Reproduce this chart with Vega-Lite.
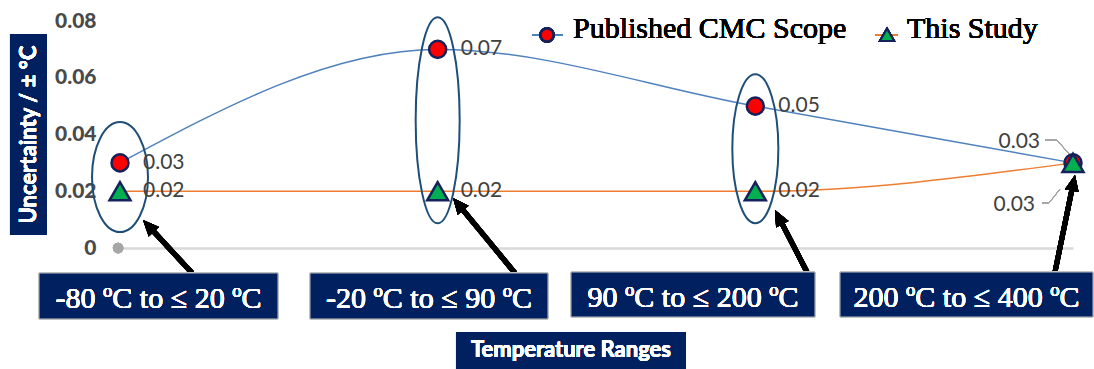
{
  "$schema": "https://vega.github.io/schema/vega-lite/v6.json",
  "width": 953,
  "height": 227,
  "autosize": "none",
  "padding": {"left": 120, "top": 21, "right": 21, "bottom": 121},
  "background": "white",
  "config": {"view": {"stroke": null}, "font": "Lato"},
  "data": {
    "values": [
      {"idx": 1, "range": "-80 ºC to ≤ 20 ºC", "series": "Published CMC Scope", "value": 0.03},
      {"idx": 2, "range": "-20 ºC to ≤ 90 ºC", "series": "Published CMC Scope", "value": 0.07},
      {"idx": 3, "range": "90 ºC to ≤ 200 ºC", "series": "Published CMC Scope", "value": 0.05},
      {"idx": 4, "range": "200 ºC to ≤ 400 ºC", "series": "Published CMC Scope", "value": 0.03},
      {"idx": 1, "range": "-80 ºC to ≤ 20 ºC", "series": "This Study", "value": 0.02},
      {"idx": 2, "range": "-20 ºC to ≤ 90 ºC", "series": "This Study", "value": 0.02},
      {"idx": 3, "range": "90 ºC to ≤ 200 ºC", "series": "This Study", "value": 0.02},
      {"idx": 4, "range": "200 ºC to ≤ 400 ºC", "series": "This Study", "value": 0.03}
    ]
  },
  "layer": [
    {
      "mark": {"type": "rect", "fill": "#002060"},
      "encoding": {
        "x": {"datum": 0.6537, "type": "quantitative"},
        "x2": {"datum": 0.7702},
        "y": {"datum": 0.07542, "type": "quantitative"},
        "y2": {"datum": 0.00458}
      }
    },
    {
      "mark": {"type": "text", "text": "Uncertainty / ± °C", "angle": 270, "font": "Lato", "fontWeight": "bold", "fontSize": 22, "color": "white", "align": "center", "baseline": "middle"},
      "encoding": {
        "x": {"datum": 0.712, "type": "quantitative"},
        "y": {"datum": 0.04, "type": "quantitative"}
      }
    },
    {
      "mark": {"type": "point", "filled": true, "fill": "#a6a6a6", "stroke": null, "size": 110, "opacity": 0.9},
      "encoding": {
        "x": {"datum": 0.994, "type": "quantitative"},
        "y": {"datum": 0, "type": "quantitative"}
      }
    },
    {
      "mark": {"type": "line", "interpolate": "monotone", "strokeWidth": 1.5},
      "encoding": {
        "x": {
          "field": "idx", "type": "quantitative",
          "scale": {"domain": [1, 4], "nice": false, "zero": false},
          "axis": {"title": null, "labels": false, "ticks": false, "grid": false, "domainColor": "#d9d9d9", "domainWidth": 2.5}
        },
        "y": {
          "field": "value", "type": "quantitative",
          "scale": {"domain": [0, 0.08], "nice": false, "zero": true},
          "axis": {
            "title": null, "values": [0, 0.02, 0.04, 0.06, 0.08],
            "labelExpr": "datum.value == 0 ? '0' : format(datum.value, '.2f')",
            "labelFont": "Lato", "labelFontWeight": 900, "labelFontSize": 21,
            "labelColor": "#4a4a4a", "labelPadding": 24,
            "ticks": false, "domain": false, "grid": false
          }
        },
        "color": {
          "field": "series", "type": "nominal",
          "scale": {"domain": ["Published CMC Scope", "This Study"], "range": ["#4f81bd", "#ed7d31"]},
          "legend": null
        }
      }
    },
    {
      "transform": [
        {"filter": "datum.idx == 1"},
        {"aggregate": [{"op": "mean", "field": "value", "as": "mid"}], "groupby": ["idx"]}
      ],
      "mark": {"type": "point", "filled": false, "stroke": "#1f4e79", "strokeWidth": 2, "opacity": 1, "size": 12100,
        "shape": "M 0.509,0 C 0.509,0.5523 0.2811,1 0,1 C -0.2811,1 -0.509,0.5523 -0.509,0 C -0.509,-0.5523 -0.2811,-1 0,-1 C 0.2811,-1 0.509,-0.5523 0.509,0 Z"},
      "encoding": {
        "x": {"field": "idx", "type": "quantitative"},
        "y": {"field": "mid", "type": "quantitative"}
      }
    },
    {
      "transform": [
        {"filter": "datum.idx == 2"},
        {"aggregate": [{"op": "mean", "field": "value", "as": "mid"}], "groupby": ["idx"]}
      ],
      "mark": {"type": "point", "filled": false, "stroke": "#1f4e79", "strokeWidth": 2, "opacity": 1, "size": 42436,
        "shape": "M 0.2136,0 C 0.2136,0.5523 0.118,1 0,1 C -0.118,1 -0.2136,0.5523 -0.2136,0 C -0.2136,-0.5523 -0.118,-1 0,-1 C 0.118,-1 0.2136,-0.5523 0.2136,0 Z"},
      "encoding": {
        "x": {"field": "idx", "type": "quantitative"},
        "y": {"field": "mid", "type": "quantitative"}
      }
    },
    {
      "transform": [
        {"filter": "datum.idx == 3"},
        {"aggregate": [{"op": "mean", "field": "value", "as": "mid"}], "groupby": ["idx"]}
      ],
      "mark": {"type": "point", "filled": false, "stroke": "#1f4e79", "strokeWidth": 2, "opacity": 1, "size": 22201,
        "shape": "M 0.309,0 C 0.309,0.5523 0.1707,1 0,1 C -0.1707,1 -0.309,0.5523 -0.309,0 C -0.309,-0.5523 -0.1707,-1 0,-1 C 0.1707,-1 0.309,-0.5523 0.309,0 Z"},
      "encoding": {
        "x": {"field": "idx", "type": "quantitative"},
        "y": {"field": "mid", "type": "quantitative"}
      }
    },
    {
      "mark": {"type": "point", "filled": true, "stroke": "#14215a", "strokeWidth": 2.5, "opacity": 1},
      "encoding": {
        "x": {"field": "idx", "type": "quantitative"},
        "y": {"field": "value", "type": "quantitative"},
        "shape": {
          "field": "series", "type": "nominal",
          "scale": {"domain": ["Published CMC Scope", "This Study"], "range": ["circle", "triangle-up"]},
          "legend": null
        },
        "fill": {
          "field": "series", "type": "nominal",
          "scale": {"domain": ["Published CMC Scope", "This Study"], "range": ["#ff0000", "#00b050"]},
          "legend": null
        },
        "size": {
          "field": "series", "type": "nominal",
          "scale": {"domain": ["Published CMC Scope", "This Study"], "range": [290, 440]},
          "legend": null
        }
      }
    },
    {
      "transform": [{"filter": "datum.idx < 4"}],
      "mark": {"type": "text", "align": "left", "baseline": "middle", "dx": 23, "font": "Lato", "fontSize": 21, "color": "#404040"},
      "encoding": {
        "x": {"field": "idx", "type": "quantitative"},
        "y": {"field": "value", "type": "quantitative"},
        "text": {"field": "value", "type": "quantitative", "format": ".2f"}
      }
    },
    {
      "transform": [{"filter": "datum.idx == 4 && datum.series == 'Published CMC Scope'"}],
      "mark": {"type": "text", "align": "right", "baseline": "middle", "dx": -33, "dy": -21, "font": "Lato", "fontSize": 21, "color": "#404040"},
      "encoding": {
        "x": {"field": "idx", "type": "quantitative"},
        "y": {"field": "value", "type": "quantitative"},
        "text": {"field": "value", "type": "quantitative", "format": ".2f"}
      }
    },
    {
      "transform": [{"filter": "datum.idx == 4 && datum.series == 'This Study'"}],
      "mark": {"type": "text", "align": "right", "baseline": "middle", "dx": -38, "dy": 42, "font": "Lato", "fontSize": 21, "color": "#404040"},
      "encoding": {
        "x": {"field": "idx", "type": "quantitative"},
        "y": {"field": "value", "type": "quantitative"},
        "text": {"field": "value", "type": "quantitative", "format": ".2f"}
      }
    },
    {
      "mark": {"type": "rule", "color": "#a6a6a6", "strokeWidth": 1},
      "encoding": {"x": {"datum": 3.9119, "type": "quantitative"}, "x2": {"datum": 3.9497}, "y": {"datum": 0.03806, "type": "quantitative"}, "y2": {"datum": 0.03806}}
    },
    {
      "mark": {"type": "rule", "color": "#a6a6a6", "strokeWidth": 1},
      "encoding": {"x": {"datum": 3.9497, "type": "quantitative"}, "x2": {"datum": 3.9874}, "y": {"datum": 0.03806, "type": "quantitative"}, "y2": {"datum": 0.03313}}
    },
    {
      "mark": {"type": "rule", "color": "#a6a6a6", "strokeWidth": 1},
      "encoding": {"x": {"datum": 3.9024, "type": "quantitative"}, "x2": {"datum": 3.9245}, "y": {"datum": 0.01586, "type": "quantitative"}, "y2": {"datum": 0.01586}}
    },
    {
      "mark": {"type": "rule", "color": "#a6a6a6", "strokeWidth": 1},
      "encoding": {"x": {"datum": 3.9245, "type": "quantitative"}, "x2": {"datum": 3.9591}, "y": {"datum": 0.01586, "type": "quantitative"}, "y2": {"datum": 0.02079}}
    },
    {
      "mark": {"type": "rule", "color": "black", "strokeWidth": 5},
      "encoding": {"x": {"datum": 1.2267, "type": "quantitative"}, "x2": {"datum": 1.0938}, "y": {"datum": -0.00881, "type": "quantitative"}, "y2": {"datum": 0.0073}}
    },
    {
      "mark": {"type": "rule", "color": "black", "strokeWidth": 5},
      "encoding": {"x": {"datum": 2.2434, "type": "quantitative"}, "x2": {"datum": 2.0684}, "y": {"datum": -0.00881, "type": "quantitative"}, "y2": {"datum": 0.01491}}
    },
    {
      "mark": {"type": "rule", "color": "black", "strokeWidth": 5},
      "encoding": {"x": {"datum": 3.1626, "type": "quantitative"}, "x2": {"datum": 3.0764}, "y": {"datum": -0.00846, "type": "quantitative"}, "y2": {"datum": 0.01026}}
    },
    {
      "mark": {"type": "rule", "color": "black", "strokeWidth": 5},
      "encoding": {"x": {"datum": 3.9433, "type": "quantitative"}, "x2": {"datum": 3.9997}, "y": {"datum": -0.00846, "type": "quantitative"}, "y2": {"datum": 0.02227}}
    },
    {
      "mark": {"type": "point", "filled": true, "fill": "black", "stroke": null, "opacity": 1, "size": 400, "angle": 317.2, "shape": "M 0,0 L 0.7,1.6 L -0.7,1.6 Z"},
      "encoding": {"x": {"datum": 1.0724, "type": "quantitative"}, "y": {"datum": 0.00987, "type": "quantitative"}}
    },
    {
      "mark": {"type": "point", "filled": true, "fill": "black", "stroke": null, "opacity": 1, "size": 400, "angle": 320.4, "shape": "M 0,0 L 0.7,1.6 L -0.7,1.6 Z"},
      "encoding": {"x": {"datum": 2.0483, "type": "quantitative"}, "y": {"datum": 0.01762, "type": "quantitative"}}
    },
    {
      "mark": {"type": "point", "filled": true, "fill": "black", "stroke": null, "opacity": 1, "size": 400, "angle": 332.7, "shape": "M 0,0 L 0.7,1.6 L -0.7,1.6 Z"},
      "encoding": {"x": {"datum": 3.0619, "type": "quantitative"}, "y": {"datum": 0.01339, "type": "quantitative"}}
    },
    {
      "mark": {"type": "point", "filled": true, "fill": "black", "stroke": null, "opacity": 1, "size": 400, "angle": 11.7, "shape": "M 0,0 L 0.7,1.6 L -0.7,1.6 Z"},
      "encoding": {"x": {"datum": 4.0063, "type": "quantitative"}, "y": {"datum": 0.02573, "type": "quantitative"}}
    },
    {
      "mark": {"type": "rect", "fill": "#002060", "stroke": "#c0c0c0", "strokeWidth": 1},
      "encoding": {"x": {"datum": 0.745, "type": "quantitative"}, "x2": {"datum": 1.4974}, "y": {"datum": -0.00881, "type": "quantitative"}, "y2": {"datum": -0.02502}}
    },
    {
      "mark": {"type": "rect", "fill": "#002060", "stroke": "#c0c0c0", "strokeWidth": 1},
      "encoding": {"x": {"datum": 1.5981, "type": "quantitative"}, "x2": {"datum": 2.3473}, "y": {"datum": -0.00881, "type": "quantitative"}, "y2": {"datum": -0.02502}}
    },
    {
      "mark": {"type": "rect", "fill": "#002060", "stroke": "#c0c0c0", "strokeWidth": 1},
      "encoding": {"x": {"datum": 2.4197, "type": "quantitative"}, "x2": {"datum": 3.1878}, "y": {"datum": -0.00846, "type": "quantitative"}, "y2": {"datum": -0.02432}}
    },
    {
      "mark": {"type": "rect", "fill": "#002060", "stroke": "#c0c0c0", "strokeWidth": 1},
      "encoding": {"x": {"datum": 3.2665, "type": "quantitative"}, "x2": {"datum": 4.063}, "y": {"datum": -0.00846, "type": "quantitative"}, "y2": {"datum": -0.02432}}
    },
    {
      "mark": {"type": "text", "text": "-80 ºC to  ≤ 20 ºC", "font": "Liberation Serif", "fontSize": 30, "color": "white", "align": "center", "baseline": "alphabetic"},
      "encoding": {"x": {"datum": 1.1212, "type": "quantitative"}, "y": {"datum": -0.02115, "type": "quantitative"}}
    },
    {
      "mark": {"type": "text", "text": "-20 ºC to  ≤ 90 ºC", "font": "Liberation Serif", "fontSize": 30, "color": "white", "align": "center", "baseline": "alphabetic"},
      "encoding": {"x": {"datum": 1.9727, "type": "quantitative"}, "y": {"datum": -0.02115, "type": "quantitative"}}
    },
    {
      "mark": {"type": "text", "text": "90 ºC to  ≤ 200 ºC", "font": "Liberation Serif", "fontSize": 30, "color": "white", "align": "center", "baseline": "alphabetic"},
      "encoding": {"x": {"datum": 2.8038, "type": "quantitative"}, "y": {"datum": -0.0208, "type": "quantitative"}}
    },
    {
      "mark": {"type": "text", "text": "200 ºC to  ≤ 400 ºC", "font": "Liberation Serif", "fontSize": 30, "color": "white", "align": "center", "baseline": "alphabetic"},
      "encoding": {"x": {"datum": 3.6647, "type": "quantitative"}, "y": {"datum": -0.0208, "type": "quantitative"}}
    },
    {
      "mark": {"type": "rect", "fill": "#002060"},
      "encoding": {"x": {"datum": 2.0577, "type": "quantitative"}, "x2": {"datum": 2.7817}, "y": {"datum": -0.0296, "type": "quantitative"}, "y2": {"datum": -0.0435}}
    },
    {
      "mark": {"type": "text", "text": "Temperature Ranges", "font": "Lato", "fontWeight": "bold", "fontSize": 22, "color": "white", "align": "center", "baseline": "middle"},
      "encoding": {"x": {"datum": 2.4197, "type": "quantitative"}, "y": {"datum": -0.03595, "type": "quantitative"}}
    },
    {
      "mark": {"type": "rule", "color": "#4f81bd", "strokeWidth": 1.5},
      "encoding": {"x": {"datum": 2.297, "type": "quantitative"}, "x2": {"datum": 2.3946}, "y": {"datum": 0.07507, "type": "quantitative"}, "y2": {"datum": 0.07507}}
    },
    {
      "mark": {"type": "point", "filled": true, "shape": "circle", "fill": "#ff0000", "stroke": "#14215a", "strokeWidth": 2.5, "opacity": 1, "size": 170},
      "encoding": {"x": {"datum": 2.3442, "type": "quantitative"}, "y": {"datum": 0.07507, "type": "quantitative"}}
    },
    {
      "mark": {"type": "text", "text": "Published CMC Scope", "font": "Liberation Serif", "fontSize": 30, "color": "black", "align": "left", "baseline": "alphabetic"},
      "encoding": {"x": {"datum": 2.426, "type": "quantitative"}, "y": {"datum": 0.07401, "type": "quantitative"}}
    },
    {
      "mark": {"type": "rule", "color": "#ed7d31", "strokeWidth": 1.5},
      "encoding": {"x": {"datum": 3.3767, "type": "quantitative"}, "x2": {"datum": 3.4491}, "y": {"datum": 0.07507, "type": "quantitative"}, "y2": {"datum": 0.07507}}
    },
    {
      "mark": {"type": "point", "filled": true, "shape": "triangle-up", "fill": "#00b050", "stroke": "#14215a", "strokeWidth": 2, "opacity": 1, "size": 200},
      "encoding": {"x": {"datum": 3.4145, "type": "quantitative"}, "y": {"datum": 0.07507, "type": "quantitative"}}
    },
    {
      "mark": {"type": "text", "text": "This Study", "font": "Liberation Serif", "fontSize": 30, "color": "black", "align": "left", "baseline": "alphabetic"},
      "encoding": {"x": {"datum": 3.4775, "type": "quantitative"}, "y": {"datum": 0.07401, "type": "quantitative"}}
    }
  ]
}
